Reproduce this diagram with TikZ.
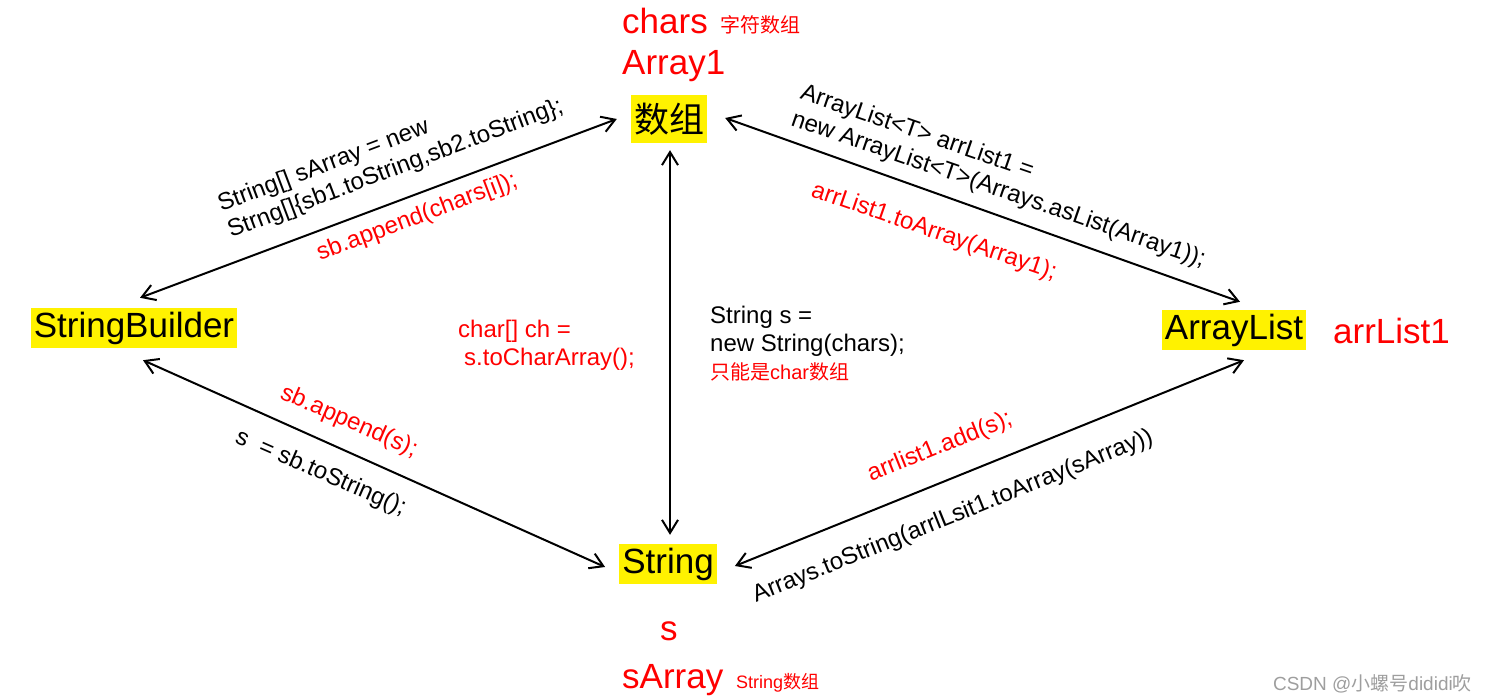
\documentclass[tikz,border=0pt]{standalone}
\usepackage{fontspec}
\setmainfont{Liberation Sans}
\newfontfamily\cjk{Noto Sans CJK SC}
\usetikzlibrary{arrows.meta,calc,positioning}
\newcommand\bigtxt{\fontsize{35}{40}\selectfont}
\newcommand\codetxt{\fontsize{24}{28}\selectfont}
\newcommand\smalltxt{\fontsize{20}{24}\selectfont}
\tikzset{
 hl/.style={fill=yellow, inner xsep=3pt, inner ysep=0pt, minimum height=40pt, font=\bigtxt},
 tag/.style={text=red, inner sep=0pt, anchor=base west, font=\bigtxt},
 note/.style={text=red, inner sep=0pt, anchor=base west, font=\smalltxt\cjk},
 code/.style={inner sep=0pt, anchor=base west, align=left, font=\codetxt},
 link/.style={line width=2pt, {Straight Barb[length=13pt,width=16pt]}-{Straight Barb[length=13pt,width=16pt]}}
}
\begin{document}
\begin{tikzpicture}[x=1pt,y=-1pt]
\useasboundingbox (0,0) rectangle (1487,700);

%%%% the four boxes
\node[hl, minimum height=48pt] (arr) at (669,119) {\cjk 数组}; \node[hl] (sb) at (134,328) {StringBuilder};
\node[hl] (al) at (1234,330) {ArrayList}; \node[hl] (str) at (668,564) {String};

%%%% names of the variables
\node[tag] (chars) at (622,34) {chars}; \node[note] (charsnote) at (720,33) {字符数组};
\node[tag] (array1) at (622,75) {Array1};
\node[tag] (arrlist1) at (1333,343) {arrList1};
\node[tag] (s) at (660,640) {s};
\node[tag] (sarray) at (622,688) {sArray}; \node[note, font=\fontsize{18}{22}\selectfont] (sarraynote) at (736,688) {String{\cjk 数组}};

%%%% connectors
\draw[link] ($(sb.north)+(6,-10)$) -- ($(arr.west)+(-14,0)$);
\draw[link] ($(arr.east)+(18,-1)$) -- ($(al.north)+(6,-8)$);
\draw[link] ($(arr.south)+(1,7)$) -- ($(str.north)+(2,-9)$);
\draw[link] ($(sb.south)+(9,12)$) -- ($(str.west)+(-14,3)$);
\draw[link] ($(str.east)+(18,2)$) -- ($(al.south)+(10,10)$);

%%%% code along the connectors (multi-line nodes sit on their last line)
\node[code, rotate=20.7] (newarr) at (231,238) {String[] sArray = new\\Strng[]\{sb1.toString,sb2.toString\};};
\node[code, text=red, rotate=20.7] (append1) at (320,261) {sb.append(chars[i]);};

\node[code, rotate=-19] (newlist) at (790,125) {ArrayList<T> arrList1 =\\new ArrayList<T>(Arrays.asList(Array1));};
\node[code, text=red, rotate=-19] (toarr) at (810,196) {arrList1.toArray(Array1);};

\node[code, text=red] (tochar) at (458,365) {char[] ch =\\\hspace*{6pt}s.toCharArray();};
\node[code] (newstr) at (710,379) {String s =\\new String(chars);\\{\color{red}\smalltxt{\cjk 只能是}char{\cjk 数组}}};

\node[code, text=red, rotate=-23.6] (append2) at (279,398) {sb.append(s);};
\node[code, rotate=-23.6] (tostr) at (234,442) {s\ \ = sb.toString();};

\node[code, text=red, rotate=22] (add) at (871,482) {arrlist1.add(s);};
\node[code, rotate=22] (tostr2) at (756,603) {Arrays.toString(arrlLsit1.toArray(sArray))};

%%%% watermark
\node[anchor=base east, inner sep=0pt, text=black!38, font=\fontsize{19}{22}\selectfont] (mark) at (1472,690) {CSDN @{\cjk 小螺号}dididi{\cjk 吹}};

\end{tikzpicture}
\end{document}
